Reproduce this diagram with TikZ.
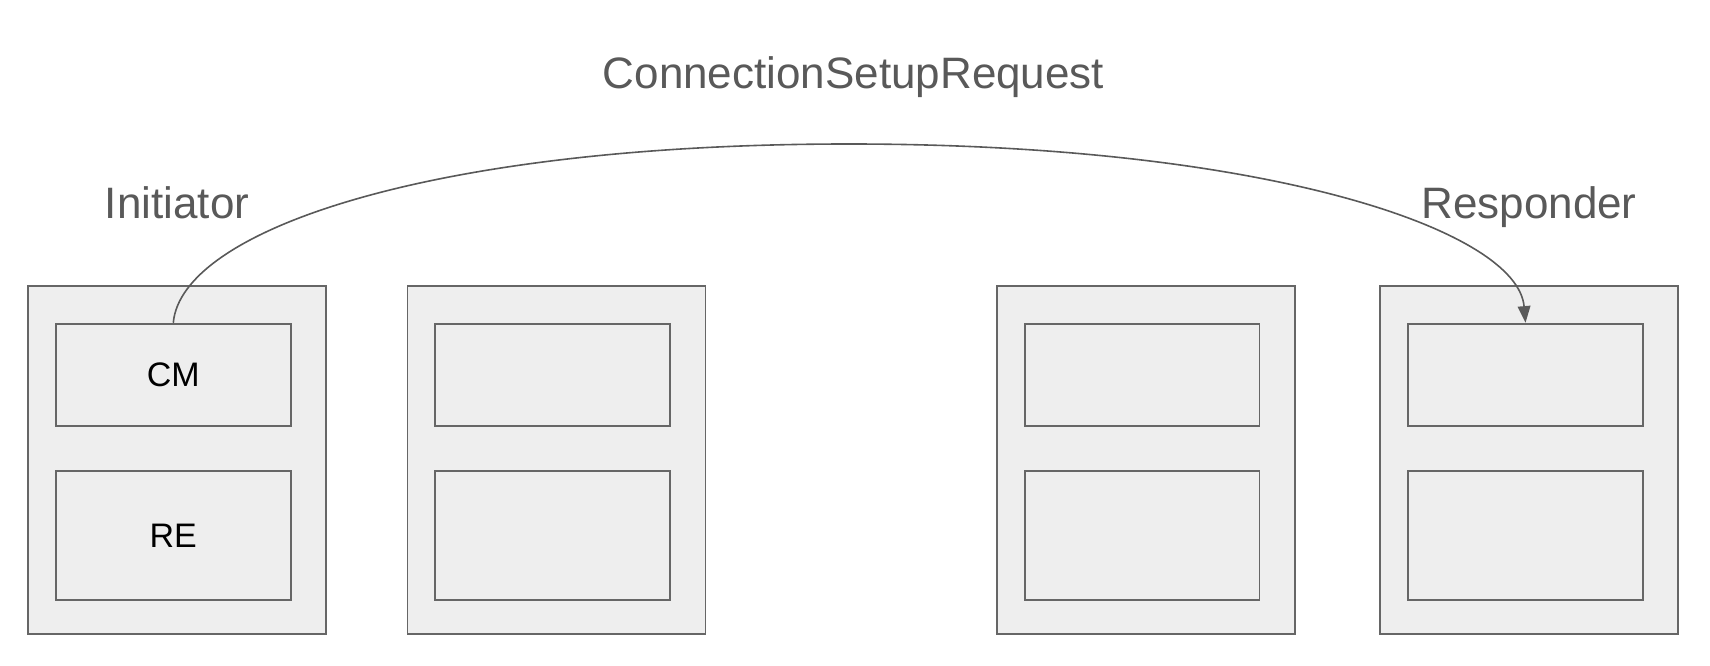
\documentclass[tikz,border=0pt]{standalone}
\usepackage{fontspec}
\setmainfont{Liberation Sans}
\usetikzlibrary{arrows.meta,calc}
\definecolor{boxfill}{HTML}{EEEEEE}
\definecolor{boxline}{HTML}{666666}
\definecolor{labelgray}{HTML}{595959}
\begin{document}
\begin{tikzpicture}[x=0.75pt,y=-0.75pt,
  outerbox/.style={draw=boxline,fill=boxfill,line width=1.4pt,minimum width=223.5pt,minimum height=261pt,inner sep=0pt},
  cmbox/.style={draw=boxline,fill=boxfill,line width=1.4pt,minimum width=176pt,minimum height=76.5pt,inner sep=0pt,font=\fontsize{25.5}{30}\selectfont,text=black},
  rebox/.style={draw=boxline,fill=boxfill,line width=1.4pt,minimum width=176pt,minimum height=96.5pt,inner sep=0pt,font=\fontsize{25.5}{30}\selectfont,text=black},
  title/.style={anchor=base,text=labelgray,font=\fontsize{33}{40}\selectfont,inner sep=0pt},
  conn/.style={draw=labelgray,line width=1.2pt}]
\useasboundingbox (0,0) rectangle (1710,666);
% outer boxes
\node[outerbox] (o1) at (177.2,459.7) {};
\node[outerbox] (o2) at (556.5,459.7) {};
\node[outerbox] (o3) at (1146.3,459.7) {};
\node[outerbox] (o4) at (1529.2,459.7) {};
% inner boxes
\node[cmbox] (c1) at (173.3,374.7) {CM};
\node[rebox] (r1) at (173.3,535.7) {RE};
\node[cmbox] (c2) at (552.5,374.7) {};
\node[rebox] (r2) at (552.5,535.7) {};
\node[cmbox] (c3) at (1142.2,374.7) {};
\node[rebox] (r3) at (1142.2,535.7) {};
\node[cmbox] (c4) at (1525.5,374.7) {};
\node[rebox] (r4) at (1525.5,535.7) {};
% labels
\node[title] (ini) at (177,219) {Initiator};
\node[title] (res) at (1529,219) {Responder};
\node[title] (csr) at (853.5,89) {ConnectionSetupRequest};
% connector
\coordinate (top) at (849,144);
\draw[conn,-{Triangle[length=12.5pt,width=9.5pt]}] (c1.north) .. controls ($(c1.north)+(8,-92)$) and (429,144) .. (top)
  .. controls (1269,144) and ($(c4.north)+(-8,-92)$) .. (c4.north);
\end{tikzpicture}
\end{document}
